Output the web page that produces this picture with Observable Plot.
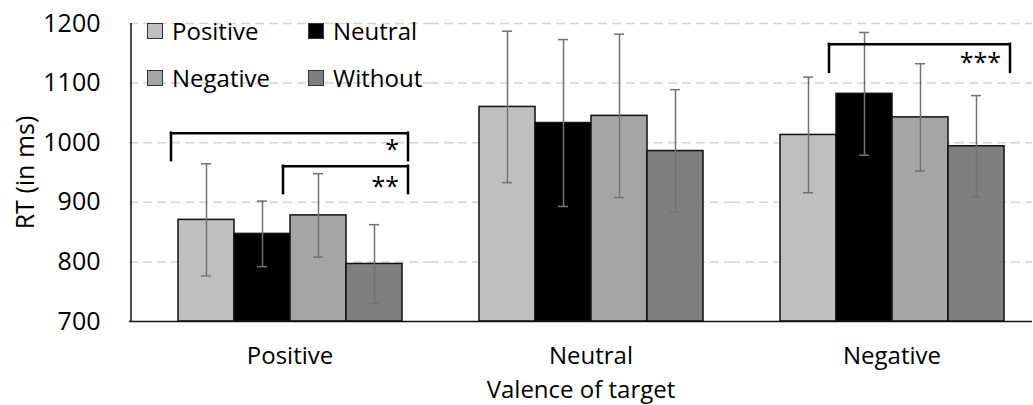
<!DOCTYPE html>
<html><head><meta charset="utf-8">
<script src="https://cdn.jsdelivr.net/npm/d3@7"></script>
<script src="https://cdn.jsdelivr.net/npm/@observablehq/plot@0.6"></script>
<style>
body{margin:0;background:#fff;}
#wrap{position:relative;width:1033px;height:405px;font-family:"Open Sans",sans-serif;}
#legend{position:absolute;left:147px;top:7px;display:grid;grid-template-columns:161px auto;grid-auto-rows:47px;font-size:24px;color:#000;}
.item{display:flex;align-items:center;}
.sw{width:14px;height:14px;border:1.5px solid #333;margin-right:9px;}
</style></head><body><div id="wrap"><div id="legend"></div></div>
<script>
// ---- data ----
const categories = ["Positive", "Neutral", "Negative"];          // valence of target
const series = ["Positive", "Neutral", "Negative", "Without"];   // prime condition
const seriesColors = ["#bfbfbf", "#000000", "#a5a5a5", "#7f7f7f"];
const rtPositiveTarget = [870.5, 847, 878, 796.5];
const rtNeutralTarget  = [1060, 1033, 1045, 986];
const rtNegativeTarget = [1013, 1082, 1042.5, 994];
const errPositiveTarget = [94, 55, 70, 66];
const errNeutralTarget  = [127, 140, 137, 103];
const errNegativeTarget = [97, 103, 90, 85];
const yTicks = [700, 800, 900, 1000, 1100, 1200];
// significance brackets
const bracketGroup  = ["Positive", "Positive", "Negative"];
const bracketFrom   = ["Positive", "Negative", "Neutral"];
const bracketTo     = ["Without", "Without", "Without"];
const bracketTop    = [1016, 960.5, 1165];
const bracketBottom = [970, 914.6, 1118];
const bracketLabelY = [1004, 942, 1150];
const bracketLabel  = ["*", "**", "***"];

// ---- tables ----
const rtByGroup = [rtPositiveTarget, rtNeutralTarget, rtNegativeTarget];
const errByGroup = [errPositiveTarget, errNeutralTarget, errNegativeTarget];
const rows = categories.flatMap((c, gi) => series.map((s, si) => ({
  category: c, series: s, rt: rtByGroup[gi][si], err: errByGroup[gi][si]
})));
const brackets = bracketLabel.map((l, i) => ({
  group: bracketGroup[i], from: bracketFrom[i], to: bracketTo[i],
  top: bracketTop[i], bottom: bracketBottom[i], labelY: bracketLabelY[i], label: l
}));

// ---- layout ----
const W = 1033, H = 405, mL = 128, mR = 0, mT = 23, mB = 84;
const facetW = (W - mL - mR) / categories.length;
const padOuter = 0.646, align = 0.638;
const step = facetW / (series.length + 2 * padOuter);
const bw = step;
const firstCenter = (facetW - step * series.length) * align + bw / 2;
const yMin = yTicks[0], yMax = yTicks[yTicks.length - 1];

const chart = Plot.plot({
  width: W, height: H,
  marginLeft: mL, marginRight: mR, marginTop: mT, marginBottom: mB,
  style: {fontFamily: "Open Sans", fontSize: "25px", color: "#000", background: "transparent"},
  fx: {domain: categories, padding: 0, axis: null},
  x: {domain: series, paddingInner: 0, paddingOuter: padOuter, align: align, axis: null},
  y: {domain: [yMin, yMax], axis: null},
  color: {domain: series, range: seriesColors},
  marks: [
    Plot.gridY(yTicks.slice(1), {stroke: "#d4d4d4", strokeOpacity: 1, strokeWidth: 1.5, strokeDasharray: "9,5"}),
    Plot.barY(rows, {fx: "category", x: "series", y1: yMin, y2: "rt", fill: "series", stroke: "#111", strokeWidth: 1.5}),
    Plot.ruleX(rows, {fx: "category", x: "series", y1: d => d.rt - d.err, y2: d => d.rt + d.err, stroke: "#737373", strokeWidth: 1.5}),
    Plot.tickY(rows, {fx: "category", x: "series", y: d => d.rt + d.err, stroke: "#737373", strokeWidth: 1.5, insetLeft: (bw - 11) / 2, insetRight: (bw - 11) / 2}),
    Plot.tickY(rows, {fx: "category", x: "series", y: d => d.rt - d.err, stroke: "#737373", strokeWidth: 1.5, insetLeft: (bw - 11) / 2, insetRight: (bw - 11) / 2}),
    Plot.ruleY([yMin], {stroke: "#111", strokeWidth: 1.5}),
    // y axis line, first facet only
    Plot.ruleX([categories[0]], {fx: d => d, x: () => series[0], y1: yMin, y2: yMax, dx: -firstCenter, stroke: "#111", strokeWidth: 1.5}),
    Plot.axisY({ticks: yTicks, tickFormat: d3.format("d"), tickSize: 0, tickPadding: 29, label: "RT (in ms)", labelArrow: "none", labelAnchor: "center", labelOffset: 113, fontSize: 25}),
    Plot.axisFx({anchor: "bottom", tickSize: 0, tickPadding: 25, dx: 10, label: "Valence of target", labelArrow: "none", labelAnchor: "center", labelOffset: 76, fontSize: 24}),
    // brackets
    Plot.ruleY(brackets, {fx: "group", x1: "from", x2: "to", y: "top", insetLeft: -7, insetRight: -5, stroke: "#000", strokeWidth: 2.5, strokeLinecap: "square"}),
    Plot.ruleX(brackets, {fx: "group", x: "from", y1: "bottom", y2: "top", dx: -bw / 2 - 7, stroke: "#000", strokeWidth: 2.5, strokeLinecap: "square"}),
    Plot.ruleX(brackets, {fx: "group", x: "to", y1: "bottom", y2: "top", dx: bw / 2 + 5, stroke: "#000", strokeWidth: 2.5, strokeLinecap: "square"}),
    Plot.text(brackets, {fx: "group", x: "to", y: "labelY", text: "label", textAnchor: "end", lineAnchor: "top", dx: bw / 2 - 4, fontSize: 25, fill: "#000"})
  ]
});
document.getElementById("wrap").prepend(chart);

// legend (HTML overlay)
const legend = document.getElementById("legend");
series.forEach((s, i) => {
  const item = document.createElement("div");
  item.className = "item";
  const sw = document.createElement("span");
  sw.className = "sw";
  sw.style.background = seriesColors[i];
  const t = document.createElement("span");
  t.textContent = s;
  item.append(sw, t);
  legend.append(item);
});
</script>
</body></html>
